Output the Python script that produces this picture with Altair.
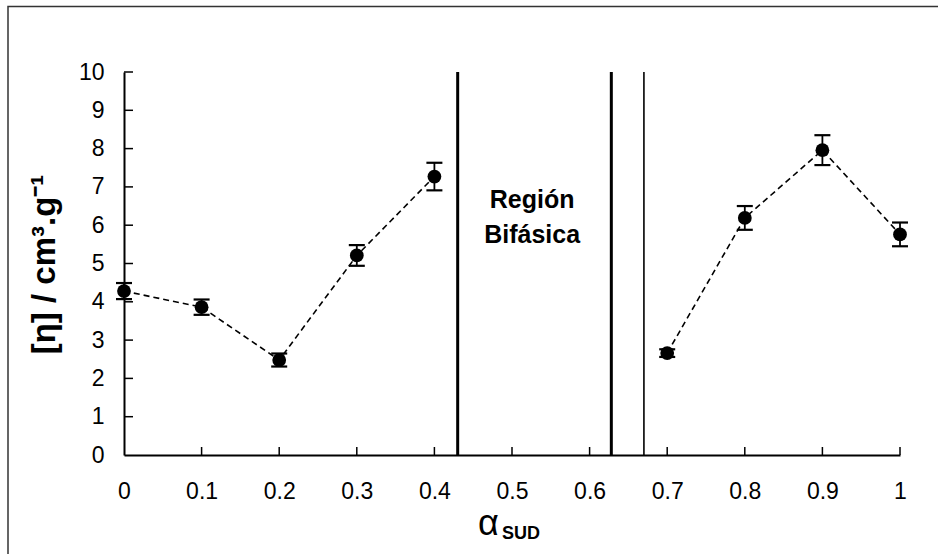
import altair as alt
import pandas as pd

# Data
alpha = [0.0, 0.1, 0.2, 0.3, 0.4, 0.7, 0.8, 0.9, 1.0]
eta = [4.28, 3.86, 2.48, 5.21, 7.27, 2.66, 6.19, 7.96, 5.76]
err = [0.21, 0.20, 0.17, 0.27, 0.36, 0.10, 0.31, 0.39, 0.31]
group = ["a", "a", "a", "a", "a", "b", "b", "b", "b"]

boundary_x = [0.43, 0.628, 0.67]
boundary_w = [3, 3, 1.6]

x_tick_values = [0, 0.1, 0.2, 0.3, 0.4, 0.5, 0.6, 0.7, 0.8, 0.9, 1.0]
y_tick_values = [0, 1, 2, 3, 4, 5, 6, 7, 8, 9, 10]

region_text = ["Región", "Bifásica"]
region_y = [6.45, 5.54]
region_x = [0.526, 0.526]

W, H = 776, 383
FONT = "Liberation Sans"

df = pd.DataFrame({"alpha": alpha, "eta": eta, "err": err, "group": group})
df["lo"] = df["eta"] - df["err"]
df["hi"] = df["eta"] + df["err"]

xs = alt.Scale(domain=[0, 1], nice=False, zero=False)
ys = alt.Scale(domain=[0, 10], nice=False)

x_axis = alt.Axis(values=x_tick_values, format="~g", title=None, labelPadding=25,
                  labelOverlap=False)
y_axis = alt.Axis(values=y_tick_values, title=None, labelPadding=20,
                  labelOverlap=False)

X = alt.X("alpha:Q", scale=xs, axis=x_axis)

base = alt.Chart(df)

line = base.mark_line(color="black", strokeDash=[6, 4], strokeWidth=1.6).encode(
    x=X,
    y=alt.Y("eta:Q", scale=ys, axis=y_axis),
    detail="group:N",
)

bars = base.mark_rule(color="black", strokeWidth=1.8, opacity=1).encode(
    x=X, y=alt.Y("lo:Q", scale=ys, axis=y_axis), y2="hi:Q"
)
cap_lo = base.mark_tick(color="black", orient="horizontal", size=16, thickness=2.2, opacity=1).encode(
    x=X, y=alt.Y("lo:Q", scale=ys, axis=y_axis)
)
cap_hi = base.mark_tick(color="black", orient="horizontal", size=16, thickness=2.2, opacity=1).encode(
    x=X, y=alt.Y("hi:Q", scale=ys, axis=y_axis)
)
points = base.mark_point(filled=True, color="black", size=190, opacity=1).encode(
    x=X, y=alt.Y("eta:Q", scale=ys, axis=y_axis)
)

bdf = pd.DataFrame({"alpha": boundary_x, "w": boundary_w, "y0": [0] * 3, "y1": [10] * 3})
blines = alt.Chart(bdf).mark_rule(color="black", opacity=1).encode(
    x=X, y=alt.Y("y0:Q", scale=ys, axis=y_axis), y2="y1:Q",
    strokeWidth=alt.StrokeWidth("w:Q", scale=None, legend=None),
)

tdf = pd.DataFrame({"t": region_text, "alpha": region_x, "y": region_y})
rtext = alt.Chart(tdf).mark_text(font=FONT, fontSize=25, fontWeight="bold",
                                 align="center", baseline="alphabetic", color="black").encode(
    x=X, y=alt.Y("y:Q", scale=ys, axis=y_axis), text="t:N"
)

xt = alt.Chart(pd.DataFrame({"alpha": x_tick_values[1:]})).mark_rule(
    color="black", strokeWidth=1.5, opacity=1).encode(
    x=X, y=alt.value(H), y2=alt.value(H - 8)
)
yt = alt.Chart(pd.DataFrame({"v": y_tick_values[1:]})).mark_rule(
    color="black", strokeWidth=1.5, opacity=1).encode(
    y=alt.Y("v:Q", scale=ys, axis=y_axis), x=alt.value(0), x2=alt.value(9)
)

one = pd.DataFrame({"a": [0]})
ytitle = alt.Chart(one).mark_text(text="[η] / cm³.g⁻¹", font=FONT, fontSize=33,
                                  fontWeight="bold", angle=270, align="center",
                                  baseline="middle", color="black").encode(
    x=alt.value(-79), y=alt.value(H / 2 + 1)
)
xtitle_a = alt.Chart(one).mark_text(text="α", font=FONT, fontSize=36, align="left",
                                    baseline="alphabetic", color="black").encode(
    x=alt.value(354), y=alt.value(463)
)
xtitle_s = alt.Chart(one).mark_text(text="SUD", font=FONT, fontSize=18, fontWeight="bold",
                                    align="left", baseline="alphabetic", color="black").encode(
    x=alt.value(378), y=alt.value(467)
)

frame = alt.Chart(one).mark_rect(fill=None, stroke="#333333", strokeWidth=1.5).encode(
    x=alt.value(-116), x2=alt.value(900), y=alt.value(-65.5), y2=alt.value(600)
)

chart = alt.layer(
    line, frame, blines, bars, cap_lo, cap_hi, points, rtext, xt, yt,
    ytitle, xtitle_a, xtitle_s
).properties(
    width=W, height=H,
    autosize=alt.AutoSizeParams(type="none"),
    padding={"left": 124, "top": 72, "right": 38, "bottom": 99},
    background="white",
).configure_view(stroke=None).configure_axis(
    grid=False, ticks=False, labelFont=FONT, labelFontSize=23, labelColor="black",
    domainColor="black", domainWidth=2, labelFlush=False, labelOverlap=False,
    labelBound=False,
)

chart.save("out.html", embed_options={"renderer": "svg", "actions": False})
